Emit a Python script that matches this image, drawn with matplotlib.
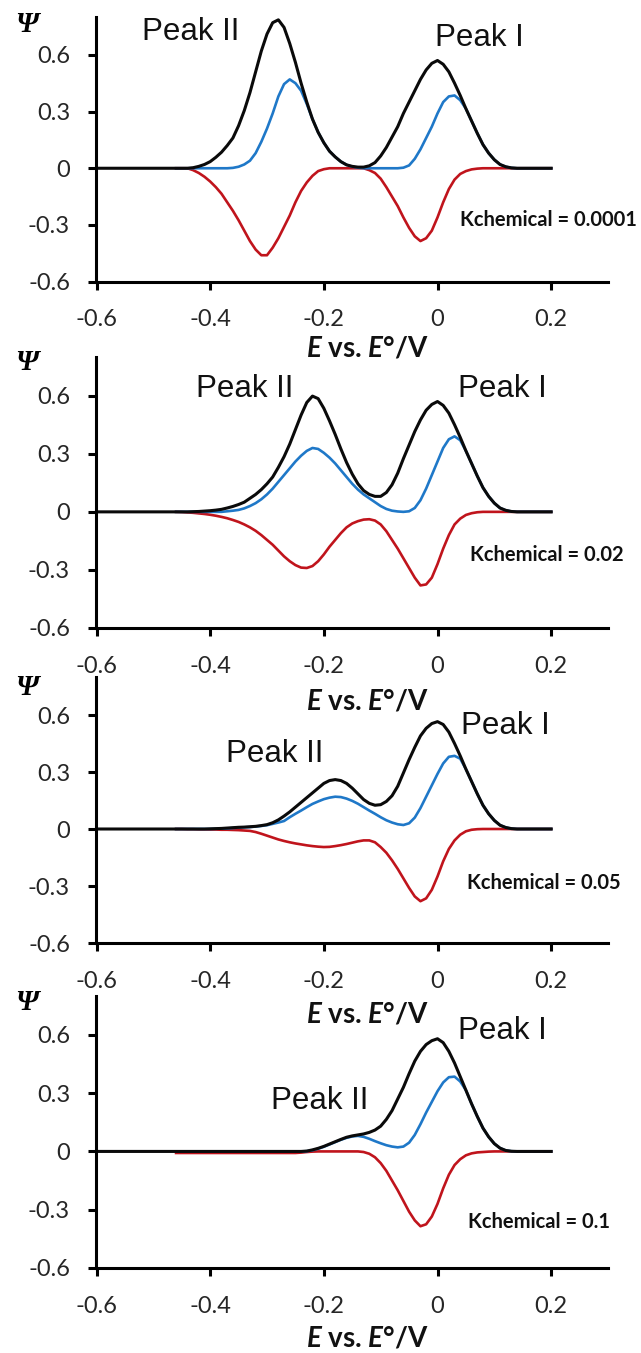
import matplotlib
matplotlib.use('Agg')
import matplotlib.pyplot as plt

plt.rcParams['axes.unicode_minus'] = False
plt.rcParams['mathtext.fontset'] = 'custom'
plt.rcParams['mathtext.it'] = 'Lato:italic:bold'
plt.rcParams['mathtext.rm'] = 'Lato:bold'

# ---------------- data ----------------
E = [-0.46, -0.45, -0.44, -0.43, -0.42, -0.41, -0.40, -0.39, -0.38, -0.37,
     -0.36, -0.35, -0.34, -0.33, -0.32, -0.31, -0.30, -0.29, -0.28, -0.27,
     -0.26, -0.25, -0.24, -0.23, -0.22, -0.21, -0.20, -0.19, -0.18, -0.17,
     -0.16, -0.15, -0.14, -0.13, -0.12, -0.11, -0.10, -0.09, -0.08, -0.07,
     -0.06, -0.05, -0.04, -0.03, -0.02, -0.01, 0.00, 0.01, 0.02, 0.03,
     0.04, 0.05, 0.06, 0.07, 0.08, 0.09, 0.10, 0.11, 0.12, 0.13,
     0.14, 0.15, 0.16, 0.17, 0.18, 0.19, 0.20]
E_black = [-0.60] + E

k_labels = ['Kchemical = 0.0001', 'Kchemical = 0.02', 'Kchemical = 0.05', 'Kchemical = 0.1']

# Panel 1: Kchemical = 0.0001
black_1 = [0.0,
           0, 0, 0, 0.003, 0.01, 0.02, 0.035, 0.058, 0.085, 0.12,
           0.16, 0.225, 0.305, 0.40, 0.51, 0.62, 0.71, 0.77, 0.785, 0.745,
           0.66, 0.56, 0.45, 0.35, 0.26, 0.19, 0.135, 0.09, 0.06, 0.035,
           0.018, 0.01, 0.006, 0.006, 0.013, 0.03, 0.065, 0.11, 0.165, 0.22,
           0.29, 0.35, 0.41, 0.47, 0.52, 0.555, 0.57, 0.55, 0.51, 0.45,
           0.385, 0.315, 0.25, 0.185, 0.125, 0.08, 0.045, 0.02, 0.008, 0.002,
           0, 0, 0, 0, 0, 0, 0]
blue_1 = [0, 0, 0, 0, 0, 0, 0, 0, 0, 0,
          0.002, 0.008, 0.02, 0.04, 0.08, 0.14, 0.21, 0.29, 0.38, 0.445,
          0.47, 0.45, 0.41, 0.34, 0.26, 0.19, 0.135, 0.09, 0.06, 0.035,
          0.018, 0.008, 0.003, 0, 0, 0, 0, 0, 0, 0,
          0.003, 0.015, 0.05, 0.10, 0.16, 0.22, 0.29, 0.35, 0.38, 0.385,
          0.36, 0.315, 0.25, 0.185, 0.125, 0.08, 0.045, 0.02, 0.008, 0.002,
          0, 0, 0, 0, 0, 0, 0]
red_1 = [0, 0, 0, -0.01, -0.025, -0.045, -0.07, -0.10, -0.135, -0.18,
         -0.225, -0.275, -0.33, -0.385, -0.43, -0.46, -0.46, -0.42, -0.37, -0.31,
         -0.25, -0.18, -0.12, -0.075, -0.04, -0.015, -0.005, 0, 0, 0,
         0, 0, 0, 0, -0.01, -0.025, -0.055, -0.10, -0.15, -0.20,
         -0.26, -0.315, -0.36, -0.385, -0.37, -0.33, -0.26, -0.18, -0.11, -0.06,
         -0.03, -0.015, -0.006, -0.002, 0, 0, 0, 0, 0, 0,
         0, 0, 0, 0, 0, 0, 0]

# Panel 2: Kchemical = 0.02
black_2 = [0.0,
           0, 0, 0, 0.001, 0.002, 0.004, 0.006, 0.009, 0.013, 0.02,
           0.028, 0.038, 0.05, 0.07, 0.09, 0.115, 0.145, 0.18, 0.23, 0.285,
           0.35, 0.425, 0.50, 0.565, 0.598, 0.585, 0.535, 0.47, 0.40, 0.325,
           0.255, 0.195, 0.145, 0.11, 0.09, 0.08, 0.08, 0.10, 0.14, 0.20,
           0.275, 0.345, 0.415, 0.475, 0.525, 0.555, 0.57, 0.55, 0.51, 0.45,
           0.385, 0.315, 0.25, 0.185, 0.125, 0.08, 0.045, 0.02, 0.008, 0.002,
           0, 0, 0, 0, 0, 0, 0]
blue_2 = [0, 0, 0, 0, 0, 0, 0, 0, 0, 0.003,
          0.006, 0.01, 0.018, 0.03, 0.045, 0.065, 0.09, 0.12, 0.155, 0.19,
          0.225, 0.26, 0.29, 0.315, 0.33, 0.325, 0.305, 0.28, 0.25, 0.215,
          0.18, 0.145, 0.115, 0.09, 0.07, 0.05, 0.03, 0.015, 0.006, 0.002,
          0, 0.003, 0.02, 0.06, 0.12, 0.19, 0.26, 0.33, 0.375, 0.39,
          0.37, 0.315, 0.25, 0.185, 0.125, 0.08, 0.045, 0.02, 0.008, 0.002,
          0, 0, 0, 0, 0, 0, 0]
red_2 = [0, -0.001, -0.003, -0.005, -0.008, -0.011, -0.015, -0.02, -0.026, -0.033,
         -0.042, -0.052, -0.065, -0.08, -0.098, -0.12, -0.145, -0.17, -0.20, -0.23,
         -0.255, -0.275, -0.288, -0.29, -0.28, -0.255, -0.22, -0.18, -0.145, -0.11,
         -0.08, -0.06, -0.048, -0.04, -0.038, -0.045, -0.065, -0.10, -0.145, -0.19,
         -0.24, -0.29, -0.34, -0.38, -0.375, -0.34, -0.27, -0.19, -0.12, -0.065,
         -0.035, -0.016, -0.007, -0.002, 0, 0, 0, 0, 0, 0,
         0, 0, 0, 0, 0, 0, 0]

# Panel 3: Kchemical = 0.05
black_3 = [0.0,
           0, 0, 0, 0, 0, 0, 0.001, 0.002, 0.003, 0.005,
           0.007, 0.009, 0.01, 0.012, 0.014, 0.018, 0.023, 0.033, 0.048, 0.068,
           0.09, 0.115, 0.14, 0.165, 0.19, 0.215, 0.24, 0.255, 0.26, 0.255,
           0.24, 0.215, 0.185, 0.155, 0.135, 0.125, 0.128, 0.145, 0.175, 0.225,
           0.295, 0.365, 0.43, 0.49, 0.53, 0.555, 0.565, 0.55, 0.51, 0.45,
           0.385, 0.315, 0.25, 0.185, 0.125, 0.08, 0.045, 0.02, 0.008, 0.002,
           0, 0, 0, 0, 0, 0, 0]
blue_3 = [0, 0, 0, 0, 0, 0, 0, 0.001, 0.002, 0.003,
          0.005, 0.007, 0.009, 0.01, 0.013, 0.016, 0.02, 0.027, 0.034, 0.042,
          0.062, 0.08, 0.097, 0.115, 0.132, 0.145, 0.157, 0.165, 0.17, 0.168,
          0.16, 0.148, 0.133, 0.115, 0.097, 0.08, 0.062, 0.046, 0.034, 0.025,
          0.021, 0.03, 0.06, 0.11, 0.17, 0.23, 0.29, 0.345, 0.38, 0.385,
          0.37, 0.315, 0.25, 0.185, 0.125, 0.08, 0.045, 0.02, 0.008, 0.002,
          0, 0, 0, 0, 0, 0, 0]
red_3 = [0, 0, -0.001, -0.001, -0.002, -0.002, -0.003, -0.003, -0.004, -0.004,
         -0.005, -0.006, -0.008, -0.01, -0.016, -0.025, -0.035, -0.045, -0.055, -0.063,
         -0.07, -0.076, -0.081, -0.086, -0.09, -0.093, -0.095, -0.094, -0.09, -0.085,
         -0.079, -0.072, -0.065, -0.06, -0.06, -0.07, -0.095, -0.125, -0.165, -0.21,
         -0.26, -0.31, -0.355, -0.38, -0.365, -0.32, -0.25, -0.17, -0.105, -0.06,
         -0.03, -0.012, -0.004, -0.001, 0, 0, 0, 0, 0, 0,
         0, 0, 0, 0, 0, 0, 0]

# Panel 4: Kchemical = 0.1
black_4 = [0.0,
           0, 0, 0, 0, 0, 0, 0, 0, 0, 0,
           0, 0, 0, 0, 0, 0, 0, 0, 0, 0,
           0, 0, 0, 0.002, 0.008, 0.016, 0.026, 0.038, 0.05, 0.062,
           0.073, 0.08, 0.085, 0.09, 0.098, 0.11, 0.13, 0.165, 0.21, 0.27,
           0.33, 0.40, 0.465, 0.515, 0.55, 0.57, 0.58, 0.56, 0.515, 0.455,
           0.385, 0.315, 0.245, 0.18, 0.12, 0.075, 0.04, 0.017, 0.005, 0.001,
           0, 0, 0, 0, 0, 0, 0]
blue_4 = [0, 0, 0, 0, 0, 0, 0, 0, 0, 0,
          0, 0, 0, 0, 0, 0, 0, 0, 0, 0,
          0, 0, 0, 0.001, 0.006, 0.014, 0.024, 0.036, 0.048, 0.06,
          0.07, 0.077, 0.08, 0.075, 0.065, 0.053, 0.042, 0.032, 0.025, 0.021,
          0.025, 0.045, 0.085, 0.14, 0.20, 0.255, 0.31, 0.355, 0.382, 0.385,
          0.36, 0.315, 0.245, 0.18, 0.12, 0.075, 0.04, 0.017, 0.005, 0.001,
          0, 0, 0, 0, 0, 0, 0]
red_4 = [-0.008, -0.008, -0.008, -0.008, -0.008, -0.008, -0.008, -0.008, -0.008, -0.008,
         -0.008, -0.008, -0.008, -0.008, -0.008, -0.008, -0.008, -0.008, -0.008, -0.008,
         -0.008, -0.008, -0.006, -0.003, -0.001, 0, 0, 0, 0, 0,
         0, 0, 0, -0.003, -0.012, -0.03, -0.06, -0.10, -0.15, -0.20,
         -0.255, -0.31, -0.355, -0.385, -0.375, -0.335, -0.27, -0.19, -0.12, -0.07,
         -0.04, -0.02, -0.01, -0.005, -0.003, -0.001, 0, 0, 0, 0,
         0, 0, 0, 0, 0, 0, 0]

blacks = [black_1, black_2, black_3, black_4]
blues = [blue_1, blue_2, blue_3, blue_4]
reds = [red_1, red_2, red_3, red_4]

x_ticks = [-0.6, -0.4, -0.2, 0.0, 0.2]
x_tick_labels = ['-0.6', '-0.4', '-0.2', '0', '0.2']
y_ticks = [-0.6, -0.3, 0.0, 0.3, 0.6]
y_tick_labels = ['-0.6', '-0.3', '0', '0.3', '0.6']

# ---------------- layout (pixels) ----------------
W, H = 641, 1353
fig = plt.figure(figsize=(W / 100, H / 100), dpi=100)
boxes = [(17, 281.7), (357, 628), (677, 943), (996, 1268)]
ax_left, ax_right = 96.5, 608

peak2_pos = [(191, 32), (245, 389), (275, 754), (320, 1101)]
peak1_pos = [(479, 38), (502, 389), (505, 726), (502, 1031)]
k_pos = [(460, 220), (470, 555), (467, 883), (468, 1222)]
psi_pos = [(27, 24), (27, 363), (27, 687), (27, 1002)]
xlab_pos = [(367, 349), (367, 702), (367, 1015), (367, 1339)]

BLACK = '#0a0a0a'
BLUE = '#1f78c8'
RED = '#c0141c'


def fx(x):
    return x / W


def fy(y):
    return 1 - y / H


xlabel_text = '$E$ vs. $E$\u00b0/V'

for i in range(4):
    top, bot = boxes[i]
    ax = fig.add_axes([fx(ax_left), fy(bot), (ax_right - ax_left) / W, (bot - top) / H])
    ax.set_xlim(-0.6, 0.3)
    ax.set_ylim(-0.6, 0.8)
    ax.patch.set_alpha(0)
    ax.plot(E, reds[i], color=RED, lw=1.9, solid_joinstyle='round', clip_on=False)
    ax.plot(E, blues[i], color=BLUE, lw=1.9, solid_joinstyle='round', clip_on=False)
    ax.plot(E_black, blacks[i], color=BLACK, lw=2.2, solid_joinstyle='round', clip_on=False)
    for s in ['top', 'right']:
        ax.spines[s].set_visible(False)
    for s in ['left', 'bottom']:
        ax.spines[s].set_linewidth(2.2)
        ax.spines[s].set_color('black')
    ax.set_xticks(x_ticks)
    ax.set_xticklabels(x_tick_labels)
    ax.set_yticks(y_ticks)
    ax.set_yticklabels(y_tick_labels)
    ax.tick_params(axis='both', direction='out', length=6, width=2.2, color='black',
                   labelsize=17, labelcolor='#262626')
    ax.tick_params(axis='x', pad=14)
    ax.tick_params(axis='y', pad=13)
    for lab in ax.get_xticklabels() + ax.get_yticklabels():
        lab.set_family('Lato')

    fig.text(fx(peak2_pos[i][0]), fy(peak2_pos[i][1]), 'Peak II', family='Liberation Sans',
             fontsize=22.5, ha='center', va='center', color='#111111')
    fig.text(fx(peak1_pos[i][0]), fy(peak1_pos[i][1]), 'Peak I', family='Liberation Sans',
             fontsize=22.5, ha='center', va='center', color='#111111')
    fig.text(fx(k_pos[i][0]), fy(k_pos[i][1]), k_labels[i], family='Lato', fontweight='bold',
             fontsize=14.5, ha='left', va='center', color='#111111')
    fig.text(fx(psi_pos[i][0]), fy(psi_pos[i][1]), '\u03a8', family='Liberation Serif',
             fontweight='bold', style='italic', fontsize=21, ha='center', va='center', color='black')
    fig.text(fx(xlab_pos[i][0]), fy(xlab_pos[i][1]), xlabel_text,
             family='Lato', fontweight='bold', fontsize=20, ha='center', va='center', color='#111111')

fig.savefig('out.png', dpi=100)
